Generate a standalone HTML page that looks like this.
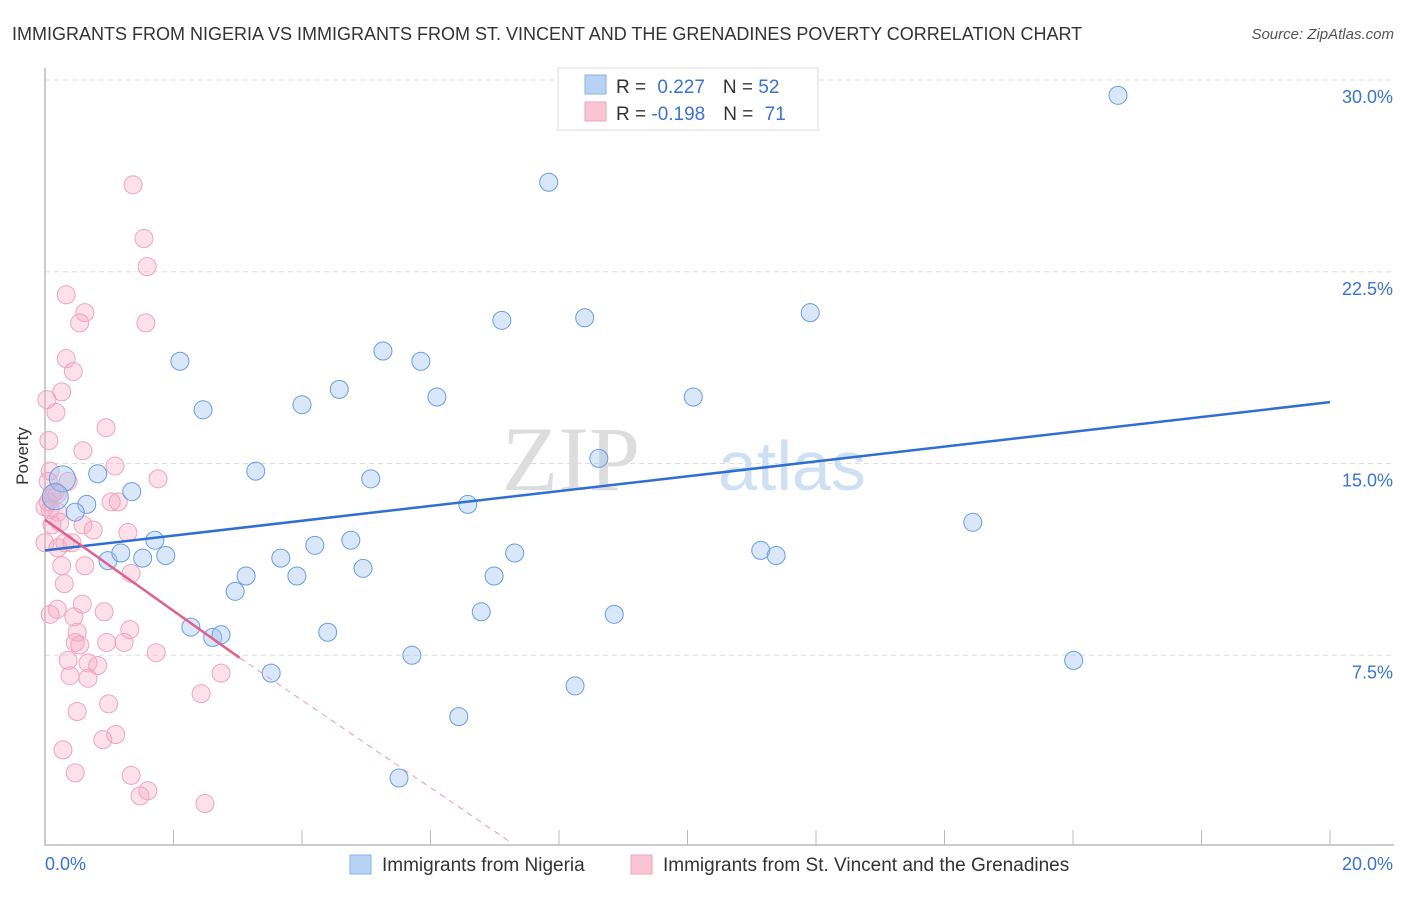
<!DOCTYPE html>
<html><head><meta charset="utf-8"><style>
body{margin:0;background:#fff;font-family:"Liberation Sans",sans-serif}
</style></head><body>
<svg width="1406" height="892" xmlns="http://www.w3.org/2000/svg" font-family="Liberation Sans, sans-serif">
<text x="12" y="40" font-size="18" fill="#333">IMMIGRANTS FROM NIGERIA VS IMMIGRANTS FROM ST. VINCENT AND THE GRENADINES POVERTY CORRELATION CHART</text>
<text x="1394" y="39" font-size="15" fill="#555" text-anchor="end" font-style="italic">Source: ZipAtlas.com</text>
<text x="640" y="490" font-size="92" fill="#ddd" text-anchor="end" font-family="Liberation Serif, serif">ZIP</text>
<text x="718" y="490" font-size="70" fill="#cfe0f3">atlas</text>
<g id="grid"></g>
<g id="axes"></g>
<g id="pts"></g>
<g id="lines"></g>
<text x="28" y="456" font-size="17" fill="#333" text-anchor="middle" transform="rotate(-90 28 456)">Poverty</text>
<g>
<rect x="558" y="68" width="260" height="62" fill="#fff" stroke="#ddd"/>
<rect x="585" y="75" width="21" height="19" fill="#b8d2f4" stroke="#8ab1e6"/>
<rect x="585" y="102" width="21" height="19" fill="#f9c5d5" stroke="#eea5bc"/>
<text x="616" y="93" font-size="19" fill="#333">R = <tspan fill="#3a74cf" dx="6">0.227</tspan><tspan dx="18" fill="#333">N = </tspan><tspan fill="#3a74cf">52</tspan></text>
<text x="616" y="120" font-size="19" fill="#333">R = <tspan fill="#3a74cf">-0.198</tspan><tspan dx="18" fill="#333">N = </tspan><tspan fill="#3a74cf" dx="6">71</tspan></text>
</g>
<g>
<rect x="350" y="855" width="21" height="19" fill="#b8d2f4" stroke="#8ab1e6"/>
<text x="382" y="871" font-size="19" fill="#333">Immigrants from Nigeria</text>
<rect x="631" y="855" width="21" height="19" fill="#f9c5d5" stroke="#eea5bc"/>
<text x="663" y="871" font-size="19" fill="#333">Immigrants from St. Vincent and the Grenadines</text>
</g>
</svg>
<script>
const yTicks=[7.5,15,22.5,30];
const yTickLabels=["7.5%","15.0%","22.5%","30.0%"];
const xTickLabels=["0.0%","20.0%"];
const blueX=[0.27,0.16,0.65,0.47,0.82,1.35,0.98,1.18,1.52,1.71,1.88,2.1,2.46,2.27,2.61,2.74,2.96,3.13,3.28,3.52,3.67,3.92,4.0,4.2,4.4,4.58,4.76,4.95,5.07,5.26,5.51,5.71,5.85,6.1,6.44,6.58,6.79,6.99,7.11,7.31,7.84,8.25,8.4,8.62,8.86,10.09,11.14,11.38,11.91,14.44,16.01,16.7];
const blueY=[14.4,13.7,13.4,13.1,14.6,13.9,11.2,11.5,11.3,12.0,11.4,19.0,17.1,8.6,8.2,8.3,10.0,10.6,14.7,6.8,11.3,10.6,17.3,11.8,8.4,17.9,12.0,10.9,14.4,19.4,2.7,7.5,19.0,17.6,5.1,13.4,9.2,10.6,20.6,11.5,26.0,6.3,20.7,15.2,9.1,17.6,11.6,11.4,20.9,12.7,7.3,29.4];
const blueR=[13,13,9,9,9,9,9,9,9,9,9,9,9,9,9,9,9,9,9,9,9,9,9,9,9,9,9,9,9,9,9,9,9,9,9,9,9,9,9,9,9,9,9,9,9,9,9,9,9,9,9,9];
const pinkX=[1.37,1.54,1.59,0.33,0.62,0.54,1.57,0.33,0.44,0.26,0.03,0.17,0.06,0.95,0.59,1.09,1.76,0.36,0.19,0.11,0.05,1.03,1.14,0.08,0.2,0.59,0.75,1.29,0.31,0.42,0.2,0.62,0.26,1.34,0.3,0.19,0.08,0.58,0.45,0.92,0.5,1.32,0.47,0.54,0.96,1.23,1.73,0.36,0.67,0.82,0.39,0.67,2.74,2.43,0.99,0.5,1.1,0.9,0.28,0.47,1.34,1.48,1.6,2.49,0.0,0.11,0.08,0.16,0.0,0.23,0.05];
const pinkY=[25.9,23.8,22.7,21.6,20.9,20.5,20.5,19.1,18.6,17.8,17.5,17.0,15.9,16.4,15.5,14.9,14.4,14.3,13.8,13.8,13.5,13.5,13.5,13.2,13.1,12.6,12.4,12.3,11.9,11.9,11.7,11.0,11.0,10.7,10.3,9.3,9.1,9.5,9.0,9.2,8.4,8.5,8.0,7.9,8.0,8.0,7.6,7.3,7.2,7.1,6.7,6.6,6.8,6.0,5.6,5.3,4.4,4.2,3.8,2.9,2.8,2.0,2.2,1.7,11.9,12.6,14.7,13.9,13.3,12.7,14.3];
const blueTrend=[[0,11.6],[20,17.4]];
const pinkTrend=[[0,12.8],[3.03,7.4],[7.24,0.2]];
const ns="http://www.w3.org/2000/svg";
const X0=45,X1=1330,Y0=847,Y30=80;
const sx=v=>X0+(X1-X0)*v/20;
const sy=v=>Y0-(Y0-Y30)*v/30;
function mk(t,a,p){const e=document.createElementNS(ns,t);for(const k in a)e.setAttribute(k,a[k]);document.getElementById(p).appendChild(e);return e;}
yTicks.forEach((t,i)=>{
 const l=mk('line',{x1:X0,x2:1394,y1:sy(t),y2:sy(t),stroke:'#ddd','stroke-dasharray':'5,4'},'grid');
 
 
 const tx=mk('text',{x:1393,y:sy(t)+23,'font-size':18,fill:'#3a74cf','text-anchor':'end'},'grid');
 tx.textContent=yTickLabels[i];
 
 
});
let ax=mk('line',{x1:X0,x2:X0,y1:68,y2:846,stroke:'#bbb','stroke-width':1.5},'axes');


ax=mk('line',{x1:X0,x2:1394,y1:845,y2:845,stroke:'#bbb','stroke-width':1.5},'axes');


for(let i=1;i<=10;i++){const t=mk('line',{x1:sx(i*2),x2:sx(i*2),y1:830,y2:845,stroke:'#bbb'},'axes');
 
 }
[[0,'start',xTickLabels[0]],[20,'end',xTickLabels[1]]].forEach(([v,a,s])=>{
 const t=mk('text',{x:v==0?sx(0):1393,y:870,'font-size':18,fill:'#3a74cf','text-anchor':a},'axes');t.textContent=s;
 
 });
pinkX.forEach((v,i)=>{const c=mk('circle',{cx:sx(v),cy:sy(pinkY[i]),r:9,fill:'rgba(246,170,196,0.35)',stroke:'#eea5bc','stroke-width':1},'pts');
 
 });
blueX.forEach((v,i)=>{const c=mk('circle',{cx:sx(v),cy:sy(blueY[i]),r:blueR[i],fill:'rgba(160,196,240,0.4)',stroke:'#6a9de0','stroke-width':1},'pts');
 
 });
let tl=mk('line',{x1:sx(blueTrend[0][0]),y1:sy(blueTrend[0][1]),x2:sx(blueTrend[1][0]),y2:sy(blueTrend[1][1]),stroke:'#2f6fd0','stroke-width':2.5},'lines');


tl=mk('line',{x1:sx(pinkTrend[0][0]),y1:sy(pinkTrend[0][1]),x2:sx(pinkTrend[1][0]),y2:sy(pinkTrend[1][1]),stroke:'#e0608c','stroke-width':2.5},'lines');


tl=mk('line',{x1:sx(pinkTrend[1][0]),y1:sy(pinkTrend[1][1]),x2:sx(pinkTrend[2][0]),y2:sy(pinkTrend[2][1]),stroke:'#e89ab4','stroke-width':1,'stroke-dasharray':'6,5'},'lines');


</script>
</body></html>
